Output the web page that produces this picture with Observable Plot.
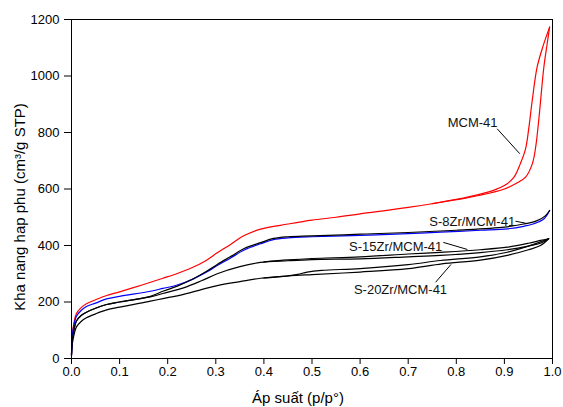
<!DOCTYPE html>
<html>
<head>
<meta charset="utf-8">
<script src="https://cdn.jsdelivr.net/npm/d3@7"></script>
<script src="https://cdn.jsdelivr.net/npm/@observablehq/plot@0.6"></script>
<style>
  body { margin: 0; background: #fff; }
</style>
</head>
<body>
<div id="chart"></div>
<script>
// N2 adsorption–desorption isotherms: [relative pressure p/p°, adsorbed volume cm³/g STP]

// MCM-41 (red)
const mcmAds = [[0,15],[0.002,90],[0.005,125],[0.01,158],[0.02,180],[0.031,194],[0.05,208],[0.073,223],[0.1,236],[0.15,262],[0.19,284],[0.22,301],[0.25,321],[0.28,347],[0.303,374],[0.33,403],[0.36,436],[0.393,458],[0.45,476],[0.5,490],[0.55,500],[0.6,512],[0.7,535],[0.8,562],[0.85,578],[0.9,600],[0.925,620],[0.944,642],[0.958,689],[0.965,748],[0.972,854],[0.982,1031],[0.989,1115],[0.994,1173]];
const mcmDes = [[0.75,548],[0.8,563],[0.85,582],[0.88,597],[0.9,612],[0.92,642],[0.933,689],[0.944,742],[0.951,819],[0.958,915],[0.968,1031],[0.98,1104],[0.994,1173]];

// S-8Zr/MCM-41 (blue and black branches)
const s8Blue = [[0,15],[0.002,85],[0.005,118],[0.01,149],[0.02,170],[0.031,184],[0.05,196],[0.073,211],[0.1,220],[0.164,238],[0.19,248],[0.22,260],[0.254,282],[0.28,305],[0.303,329],[0.33,355],[0.36,385],[0.393,406],[0.42,421],[0.45,427],[0.5,431],[0.6,436],[0.7,442],[0.767,447],[0.85,454],[0.906,459],[0.94,468],[0.961,477],[0.982,494],[0.994,524]];
const s8Black = [[0,12],[0.002,70],[0.005,100],[0.01,132],[0.02,152],[0.031,164],[0.05,178],[0.073,191],[0.1,200],[0.164,220],[0.19,238],[0.22,256],[0.254,283],[0.28,308],[0.303,333],[0.33,360],[0.36,390],[0.393,410],[0.42,425],[0.45,431],[0.5,434],[0.6,440],[0.7,446],[0.8,454],[0.9,465],[0.94,476],[0.968,488],[0.985,505],[0.994,524]];

// S-15Zr/MCM-41 (black)
const s15Ads = [[0,12],[0.002,70],[0.005,100],[0.01,132],[0.02,152],[0.031,164],[0.05,178],[0.073,191],[0.1,200],[0.164,218],[0.19,230],[0.233,250],[0.27,275],[0.303,300],[0.35,325],[0.393,340],[0.45,346],[0.5,350],[0.6,353],[0.7,360],[0.767,365],[0.85,375],[0.906,385],[0.95,398],[0.975,408],[0.992,424]];
const s15Des = [[0.4,342],[0.45,349],[0.5,354],[0.6,360],[0.7,370],[0.767,376],[0.85,385],[0.906,394],[0.95,408],[0.975,418],[0.992,424]];

// S-20Zr/MCM-41 (black)
const s20Ads = [[0,10],[0.002,55],[0.005,82],[0.01,111],[0.02,131],[0.031,144],[0.05,158],[0.073,172],[0.1,182],[0.164,203],[0.19,212],[0.233,227],[0.303,258],[0.35,272],[0.393,284],[0.45,292],[0.5,297],[0.6,306],[0.7,318],[0.77,335],[0.85,348],[0.906,365],[0.95,385],[0.975,400],[0.992,424]];
const s20Des = [[0.4,285],[0.44,291],[0.47,298],[0.49,306],[0.52,312],[0.6,318],[0.7,332],[0.767,347],[0.85,360],[0.906,376],[0.95,398],[0.975,413],[0.992,424]];

// Axis ticks
const xTicks = [0, 0.1, 0.2, 0.3, 0.4, 0.5, 0.6, 0.7, 0.8, 0.9, 1.0];
const yTicks = [0, 200, 400, 600, 800, 1000, 1200];

// Curve labels (centre point) and their leader lines, in data units
const labelText = ["MCM-41", "S-8Zr/MCM-41", "S-15Zr/MCM-41", "S-20Zr/MCM-41"];
const labelAt = [[0.834, 836], [0.833, 483], [0.674, 396], [0.684, 244]];
const leaders = [[0.885, 813, 0.932, 725], [0.923, 486, 0.944, 479], [0.773, 411, 0.823, 386], [0.757, 270, 0.789, 333]];

const branches = [
  {pts: mcmAds, color: "#ff0000"},
  {pts: mcmDes, color: "#ff0000"},
  {pts: s20Ads, color: "#000"},
  {pts: s20Des, color: "#000"},
  {pts: s15Ads, color: "#000"},
  {pts: s15Des, color: "#000"},
  {pts: s8Blue, color: "#0000ff"},
  {pts: s8Black, color: "#000"}
];

const lineMarks = branches.map(b => Plot.line(b.pts, {
  x: d => d[0], y: d => d[1], stroke: b.color, strokeWidth: 1.2, curve: "catmull-rom"
}));

const labels = labelText.map((t, i) => ({t, x: labelAt[i][0], y: labelAt[i][1]}));

const chart = Plot.plot({
  width: 563,
  height: 407,
  marginLeft: 71,
  marginRight: 11,
  marginTop: 19,
  marginBottom: 49,
  style: {fontFamily: "'Liberation Sans', Arial, sans-serif", fontSize: "13px", color: "#000", background: "#fff"},
  x: {domain: [0, 1]},
  y: {domain: [0, 1200]},
  marks: [
    ...lineMarks,
    Plot.frame({stroke: "#000", strokeWidth: 1}),
    Plot.axisX({ticks: xTicks, tickFormat: d => d.toFixed(1), tickSize: 6, tickPadding: 2, label: null, fontSize: 13}),
    Plot.axisY({ticks: yTicks, tickFormat: d => String(d), tickSize: 7, tickPadding: 5, label: null, fontSize: 13}),
    Plot.text(["Áp suất (p/p°)"], {frameAnchor: "bottom", textAnchor: "middle", lineAnchor: "middle", dx: -14, dy: 40, fontSize: 15, fill: "#000"}),
    Plot.text(["Kha nang hap phu (cm³/g STP)"], {frameAnchor: "left", textAnchor: "middle", lineAnchor: "middle", rotate: -90, dx: -51, dy: 18, fontSize: 15, fill: "#000"}),
    Plot.link(leaders, {x1: d => d[0], y1: d => d[1], x2: d => d[2], y2: d => d[3], stroke: "#000", strokeWidth: 1}),
    Plot.text(labels, {x: "x", y: "y", text: "t", textAnchor: "middle", lineAnchor: "middle", fontSize: 13, fill: "#111"})
  ]
});

document.getElementById("chart").append(chart);
</script>
</body>
</html>
